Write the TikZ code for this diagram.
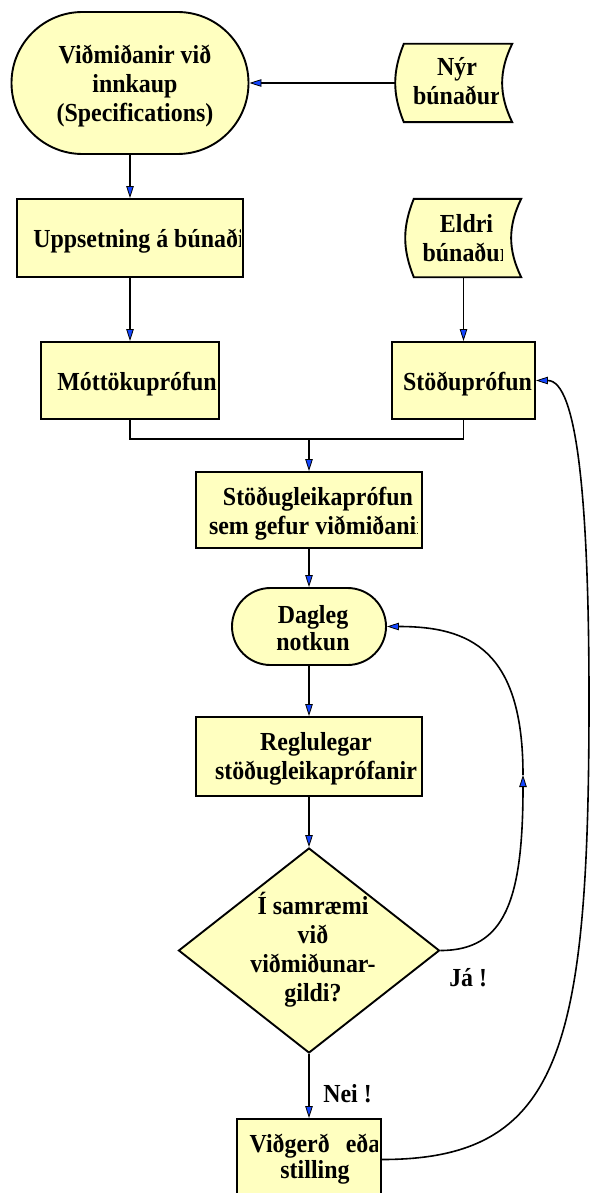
\documentclass[tikz,border=0pt]{standalone}
\usepackage{fontspec}
\setmainfont[FakeStretch=0.92]{Liberation Serif}
\usetikzlibrary{arrows.meta,shapes.geometric,shapes.misc,positioning}
\definecolor{boxfill}{RGB}{255,255,192}
\definecolor{tipblue}{RGB}{20,70,255}
\tikzset{
	lbl/.style={
		font=\bfseries\fontsize{26}{29}\selectfont,
		align=center, inner sep=0pt,
	},
	shapeline/.style={draw, fill=boxfill, line width=1.9pt},
	frame/.style={shapeline, rectangle, inner sep=0pt},
	term/.style={shapeline, rounded rectangle, inner sep=0pt},
	decision/.style={shapeline, diamond, inner sep=0pt},
	docnode/.style={rectangle, inner sep=0pt},
	line/.style={draw, line width=1.6pt},
	arr/.style={
		line, -{Triangle[length=12pt,width=7.5pt,fill=tipblue,line width=0.8pt]},
	}
}
% document symbol drawn round an empty node
\newcommand{\docshape}[1]{%
	\filldraw[shapeline] ([xshift=8pt]#1.north west) -- (#1.north east)
		to[bend right=26] (#1.south east) -- ([xshift=8pt]#1.south west)
		to[bend left=22] ([xshift=8pt]#1.north west) -- cycle;}
% text of a box, cut off at the box edge
\newcommand{\boxtext}[4][3]{%
	\begin{scope}
		\clip (#2.west |- #2.north) rectangle ([xshift=-#1pt]#2.east |- #2.south);
		\node[lbl] (#2-txt) at (#3) {#4};
	\end{scope}}

\begin{document}
\begin{tikzpicture}[x=1pt, y=-1pt]
		\useasboundingbox (0,0) rectangle (590,1193);
		
		\node [term, minimum width=237pt, minimum height=142pt] (spec) at (130,83) {};
		\node [docnode, minimum width=116pt, minimum height=78pt] (new) at (454,83) {};
		\docshape{new}
		\node [frame, minimum width=226pt, minimum height=78pt] (setup) at (130,238) {};
		\node [docnode, minimum width=115pt, minimum height=78pt] (old) at (463.5,238) {};
		\docshape{old}
		\node [frame, minimum width=178pt, minimum height=77pt] (accept) at (130,380.5) {};
		\node [frame, minimum width=143pt, minimum height=77pt] (status) at (463.5,380.5) {};
		\node [frame, minimum width=226pt, minimum height=76pt] (stab) at (309,510) {};
		\node [term, minimum width=154pt, minimum height=77pt] (daily) at (309,626.5) {};
		\node [frame, minimum width=226pt, minimum height=79pt] (rgl) at (309,756.5) {};
		\node [decision, minimum width=261pt, minimum height=205pt] (check) at (309,950.5) {};
		\node [frame, minimum width=144pt, minimum height=81pt] (repair) at (309,1159.5) {};
		
		\boxtext{spec}{135,86}{Viðmiðanir við\\innkaup\\(Specifications)}
		\boxtext[14]{new}{457,81.5}{Nýr\\búnaður}
		\boxtext{setup}{139,240.8}{Uppsetning á búnaði}
		\boxtext[19]{old}{466.5,238.3}{Eldri\\búnaður}
		\boxtext{accept}{137,384}{Móttökuprófun}
		\boxtext{status}{467.5,384}{Stöðuprófun}
		\boxtext[5]{stab}{318,514}{Stöðugleikaprófun\\sem gefur viðmiðanir}
		\boxtext{daily}{313,628.3}{Dagleg\\[-2pt]notkun}
		\boxtext[5]{rgl}{316,759}{Reglulegar\\stöðugleikaprófanir}
		\boxtext{check}{313,949.7}{Í samræmi\\við\\viðmiðunar-\\gildi?}
		\boxtext[4]{repair}{315,1159.2}{Viðgerð\hspace{16pt}eða\\[-3pt]stilling}
		
		\path [arr] (new.west) -- (spec.east);
		\path [arr] (spec.south) -- (setup.north);
		\path [arr] (setup.south) -- (accept.north);
		\path [arr] (old.south) -- (status.north);
		\coordinate (join) at (309,439);
		\path [line] (accept.south) |- (join) -| (status.south);
		\path [arr] (join) -- (stab.north);
		\path [arr] (stab.south) -- (daily.north);
		\path [arr] (daily.south) -- (rgl.north);
		\path [arr] (rgl.south) -- (check.north);
		\path [arr] (check.south) -- node[lbl, pos=0.62, anchor=west, xshift=13.5pt] (no) {Nei !} (repair.north);
		
		\coordinate (jaup) at (523,775);
		\path [arr] (check.east) node[lbl, anchor=north west, xshift=8pt, yshift=-17pt] (yes) {Já !}
			.. controls (505,950.5) and (523,900) .. (jaup);
		\path [arr] (jaup) .. controls (523,650) and (470,626.5) .. (daily.east);
		\path [arr] (repair.east) .. controls (561,1159.5) and (589,1050) .. (589,700)
			.. controls (589,500) and (577,380.5) .. (status.east);
\end{tikzpicture}
\end{document}
